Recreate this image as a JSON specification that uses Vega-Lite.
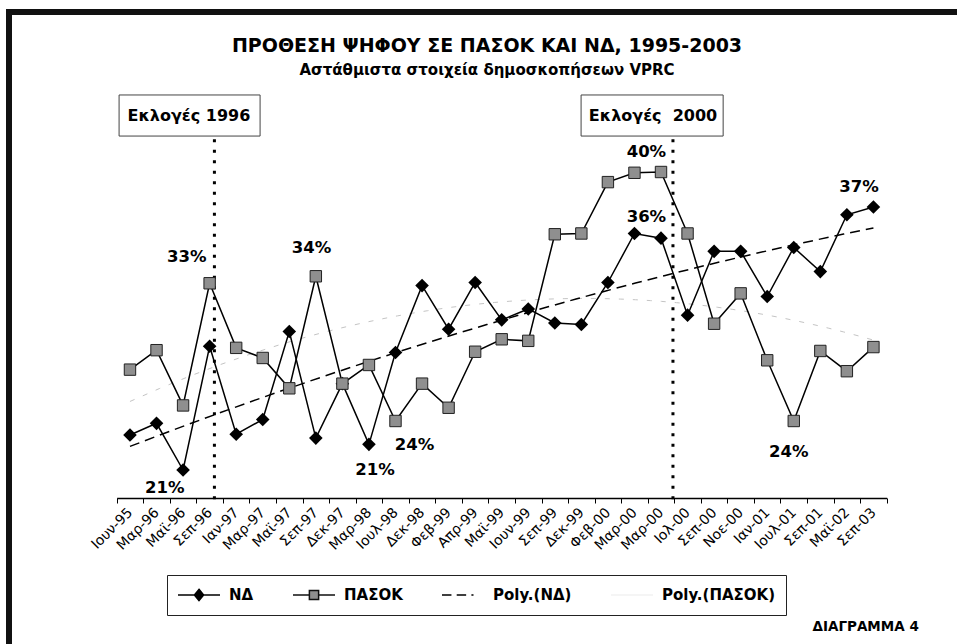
{
  "$schema": "https://vega.github.io/schema/vega-lite/v6.json",
  "width": 948,
  "height": 632,
  "autosize": {"type": "none"},
  "padding": {"left": 9, "top": 12, "right": 0, "bottom": 0},
  "background": "white",
  "config": {
    "view": {"stroke": "#111", "strokeWidth": 6, "strokeDash": [948, 1580, 632, 0], "strokeCap": "square", "fill": "white"},
    "font": "DejaVu Sans",
    "axisY": {"domain": false, "ticks": false, "labels": false, "grid": false, "titleAngle": 0, "titleX": 803, "titleY": 614, "titleAlign": "left", "titleBaseline": "middle", "titleFont": "DejaVu Sans", "titleFontSize": 13.5, "titleFontWeight": "bold", "titleColor": "#000", "titlePadding": 0},
    "axisX": {"grid": false}
  },
  "title": {
    "text": "ΠΡΟΘΕΣΗ ΨΗΦΟΥ ΣΕ ΠΑΣΟΚ ΚΑΙ ΝΔ, 1995-2003",
    "subtitle": "Αστάθμιστα στοιχεία δημοσκοπήσεων VPRC",
    "anchor": "middle",
    "frame": "group",
    "offset": -66,
    "dx": 4,
    "font": "DejaVu Sans",
    "fontSize": 19,
    "fontWeight": "bold",
    "color": "#000",
    "subtitleFont": "DejaVu Sans",
    "subtitleFontSize": 15,
    "subtitleFontWeight": "bold",
    "subtitleColor": "#000",
    "subtitlePadding": 7
  },
  "datasets": {
    "polls": [
      {"period": "Ιουν-95", "i": 0, "nd": 23.1, "pasok": 27.3},
      {"period": "Μαρ-96", "i": 1, "nd": 23.85, "pasok": 28.55},
      {"period": "Μαϊ-96", "i": 2, "nd": 20.85, "pasok": 25.0},
      {"period": "Σεπ-96", "i": 3, "nd": 28.8, "pasok": 32.85},
      {"period": "Ιαν-97", "i": 4, "nd": 23.15, "pasok": 28.7},
      {"period": "Μαρ-97", "i": 5, "nd": 24.1, "pasok": 28.05},
      {"period": "Μαϊ-97", "i": 6, "nd": 29.75, "pasok": 26.1},
      {"period": "Σεπ-97", "i": 7, "nd": 22.9, "pasok": 33.3},
      {"period": "Δεκ-97", "i": 8, "nd": 26.4, "pasok": 26.4},
      {"period": "Μαρ-98", "i": 9, "nd": 22.5, "pasok": 27.6},
      {"period": "Ιουλ-98", "i": 10, "nd": 28.4, "pasok": 24.0},
      {"period": "Δεκ-98", "i": 11, "nd": 32.7, "pasok": 26.4},
      {"period": "Φεβ-99", "i": 12, "nd": 29.9, "pasok": 24.85},
      {"period": "Απρ-99", "i": 13, "nd": 32.9, "pasok": 28.45},
      {"period": "Μαϊ-99", "i": 14, "nd": 30.5, "pasok": 29.25},
      {"period": "Ιουν-99", "i": 15, "nd": 31.2, "pasok": 29.15},
      {"period": "Σεπ-99", "i": 16, "nd": 30.3, "pasok": 36.0},
      {"period": "Δεκ-99", "i": 17, "nd": 30.2, "pasok": 36.05},
      {"period": "Φεβ-00", "i": 18, "nd": 32.9, "pasok": 39.35},
      {"period": "Μαρ-00", "i": 19, "nd": 36.05, "pasok": 39.95},
      {"period": "Μαρ-00 ", "i": 20, "nd": 35.75, "pasok": 40.0},
      {"period": "Ιολ-00", "i": 21, "nd": 30.8, "pasok": 36.05},
      {"period": "Σεπ-00", "i": 22, "nd": 34.9, "pasok": 30.25},
      {"period": "Νοε-00", "i": 23, "nd": 34.9, "pasok": 32.2},
      {"period": "Ιαν-01", "i": 24, "nd": 32.0, "pasok": 27.9},
      {"period": "Ιουλ-01", "i": 25, "nd": 35.15, "pasok": 24.0},
      {"period": "Σεπ-01", "i": 26, "nd": 33.6, "pasok": 28.5},
      {"period": "Μαϊ-02", "i": 27, "nd": 37.25, "pasok": 27.2},
      {"period": "Σεπ-03", "i": 28, "nd": 37.75, "pasok": 28.75}
    ],
    "callouts": [
      {"i": 2.14, "v": 34.55, "text": "33%"},
      {"i": 6.84, "v": 35.1, "text": "34%"},
      {"i": 1.31, "v": 19.7, "text": "21%"},
      {"i": 9.23, "v": 20.85, "text": "21%"},
      {"i": 10.72, "v": 22.45, "text": "24%"},
      {"i": 19.45, "v": 41.3, "text": "40%"},
      {"i": 19.45, "v": 37.1, "text": "36%"},
      {"i": 24.81, "v": 22.0, "text": "24%"},
      {"i": 27.46, "v": 39.05, "text": "37%"}
    ],
    "elections": [
      {"i": 3.18, "v": 42.1, "v2": 18.5},
      {"i": 20.45, "v": 42.1, "v2": 18.5}
    ],
    "boxes": [
      {"i": -0.41, "i2": 4.9, "v": 44.95, "v2": 42.31, "ic": 2.22, "vc": 43.63, "text": "Εκλογές 1996"},
      {"i": 16.99, "i2": 22.34, "v": 44.95, "v2": 42.31, "ic": 19.7, "vc": 43.63, "text": "Εκλογές\u00a0 2000"}
    ],
    "series": [
      {"series": "ΝΔ"},
      {"series": "ΠΑΣΟΚ"},
      {"series": "Poly.(ΝΔ)"},
      {"series": "Poly.(ΠΑΣΟΚ)"}
    ]
  },
  "resolve": {"scale": {"x": "independent"}},
  "layer": [
    {
      "layer": [
        {
          "data": {"name": "polls"},
          "transform": [{"regression": "pasok", "on": "i", "method": "poly", "order": 2}],
          "mark": {"type": "line", "stroke": "#c4c4c4", "strokeWidth": 1, "strokeDash": [5, 9]},
          "encoding": {
            "x": {"field": "i", "type": "quantitative", "scale": {"domain": [-0.5, 28.5], "range": [107.7, 877.7], "zero": false, "nice": false}, "axis": null},
            "y": {"field": "pasok", "type": "quantitative", "title": "ΔΙΑΓΡΑΜΜΑ 4", "scale": {"domain": [19, 45], "range": [486.8, 82.2], "zero": false, "nice": false}}
          }
        },
        {
          "data": {"name": "polls"},
          "transform": [{"regression": "nd", "on": "i", "method": "poly", "order": 2}],
          "mark": {"type": "line", "stroke": "#000", "strokeWidth": 1.5, "strokeDash": [10, 6]},
          "encoding": {
            "x": {"field": "i", "type": "quantitative", "scale": {"domain": [-0.5, 28.5], "range": [107.7, 877.7], "zero": false, "nice": false}, "axis": null},
            "y": {"field": "nd", "type": "quantitative", "title": "ΔΙΑΓΡΑΜΜΑ 4"}
          }
        },
        {
          "data": {"name": "elections"},
          "mark": {"type": "rule", "stroke": "#000", "strokeWidth": 3, "strokeDash": [3, 7.5]},
          "encoding": {
            "x": {"field": "i", "type": "quantitative", "axis": null},
            "y": {"field": "v", "type": "quantitative", "title": "ΔΙΑΓΡΑΜΜΑ 4"},
            "y2": {"field": "v2"}
          }
        },
        {
          "data": {"name": "boxes"},
          "mark": {"type": "rect", "fill": "white", "stroke": "#444", "strokeWidth": 1},
          "encoding": {
            "x": {"field": "i", "type": "quantitative", "axis": null},
            "x2": {"field": "i2"},
            "y": {"field": "v", "type": "quantitative", "title": "ΔΙΑΓΡΑΜΜΑ 4"},
            "y2": {"field": "v2"}
          }
        },
        {
          "data": {"name": "boxes"},
          "mark": {"type": "text", "font": "DejaVu Sans", "fontSize": 16, "fontWeight": "bold", "color": "#000", "align": "center", "baseline": "middle"},
          "encoding": {
            "x": {"field": "ic", "type": "quantitative", "axis": null},
            "y": {"field": "vc", "type": "quantitative", "title": "ΔΙΑΓΡΑΜΜΑ 4"},
            "text": {"field": "text"}
          }
        },
        {
          "data": {"name": "callouts"},
          "mark": {"type": "text", "font": "DejaVu Sans", "fontSize": 16.5, "fontWeight": "bold", "color": "#000", "align": "center", "baseline": "middle"},
          "encoding": {
            "x": {"field": "i", "type": "quantitative", "axis": null},
            "y": {"field": "v", "type": "quantitative", "title": "ΔΙΑΓΡΑΜΜΑ 4"},
            "text": {"field": "text"}
          }
        },
        {
          "data": {"name": "series"},
          "transform": [{"filter": "false"}],
          "mark": {"type": "point", "filled": true, "opacity": 1, "strokeWidth": 1.5},
          "encoding": {
            "shape": {
              "field": "series", "type": "nominal",
              "scale": {
                "domain": ["ΝΔ", "ΠΑΣΟΚ", "Poly.(ΝΔ)", "Poly.(ΠΑΣΟΚ)"],
                "range": [
                  "M-1,0L1,0M0,-0.27L0.22,0L0,0.27L-0.22,0Z",
                  "M-1,0L-0.22,0M0.22,0L1,0M-0.22,-0.22L0.22,-0.22L0.22,0.22L-0.22,0.22Z",
                  "M-1,0L-0.55,0M-0.3,0L0.15,0M0.4,0L0.5,0",
                  "M-1,0L1,0"
                ]
              },
              "legend": {
                "orient": "none", "legendX": 158, "legendY": 563, "direction": "horizontal", "title": null,
                "padding": 10, "strokeColor": "#222", "fillColor": "white",
                "symbolSize": 1764, "symbolStrokeWidth": 1.5, "symbolOpacity": 1,
                "labelFont": "DejaVu Sans", "labelFontSize": 15, "labelFontWeight": "bold", "labelColor": "#000",
                "labelOffset": 8, "columnPadding": 38, "clipHeight": 20
              }
            },
            "fill": {
              "field": "series", "type": "nominal",
              "scale": {"domain": ["ΝΔ", "ΠΑΣΟΚ", "Poly.(ΝΔ)", "Poly.(ΠΑΣΟΚ)"], "range": ["#000", "#8f8f8f", "#000", "#f0f0f0"]}
            },
            "stroke": {
              "field": "series", "type": "nominal",
              "scale": {"domain": ["ΝΔ", "ΠΑΣΟΚ", "Poly.(ΝΔ)", "Poly.(ΠΑΣΟΚ)"], "range": ["#000", "#111", "#000", "#f2f2f2"]}
            }
          }
        }
      ]
    },
    {
      "data": {"name": "polls"},
      "encoding": {
        "x": {
          "field": "period", "type": "nominal", "sort": null, "title": null,
          "scale": {"type": "band", "range": [107.7, 877.7], "paddingInner": 0, "paddingOuter": 0},
          "axis": {
            "labelAngle": -45, "labelAlign": "right", "labelBaseline": "middle",
            "labelFont": "DejaVu Sans", "labelFontSize": 14, "labelColor": "#000",
            "labelPadding": 7, "labelOverlap": false, "labelExpr": "trim(datum.label)",
            "tickBand": "extent", "tickSize": 5, "tickColor": "#000", "tickWidth": 1,
            "domainColor": "#000", "domainWidth": 1.5, "offset": -146, "grid": false
          }
        }
      },
      "layer": [
        {
          "mark": {"type": "line", "stroke": "#000", "strokeWidth": 1.5},
          "encoding": {"y": {"field": "nd", "type": "quantitative", "title": "ΔΙΑΓΡΑΜΜΑ 4"}}
        },
        {
          "mark": {"type": "point", "shape": "diamond", "filled": true, "fill": "#000", "size": 185, "opacity": 1},
          "encoding": {"y": {"field": "nd", "type": "quantitative", "title": "ΔΙΑΓΡΑΜΜΑ 4"}}
        },
        {
          "mark": {"type": "line", "stroke": "#000", "strokeWidth": 1.5},
          "encoding": {"y": {"field": "pasok", "type": "quantitative", "title": "ΔΙΑΓΡΑΜΜΑ 4"}}
        },
        {
          "mark": {"type": "point", "shape": "square", "filled": true, "fill": "#8f8f8f", "stroke": "#222", "strokeWidth": 1, "size": 130, "opacity": 1},
          "encoding": {"y": {"field": "pasok", "type": "quantitative", "title": "ΔΙΑΓΡΑΜΜΑ 4"}}
        }
      ]
    }
  ]
}
